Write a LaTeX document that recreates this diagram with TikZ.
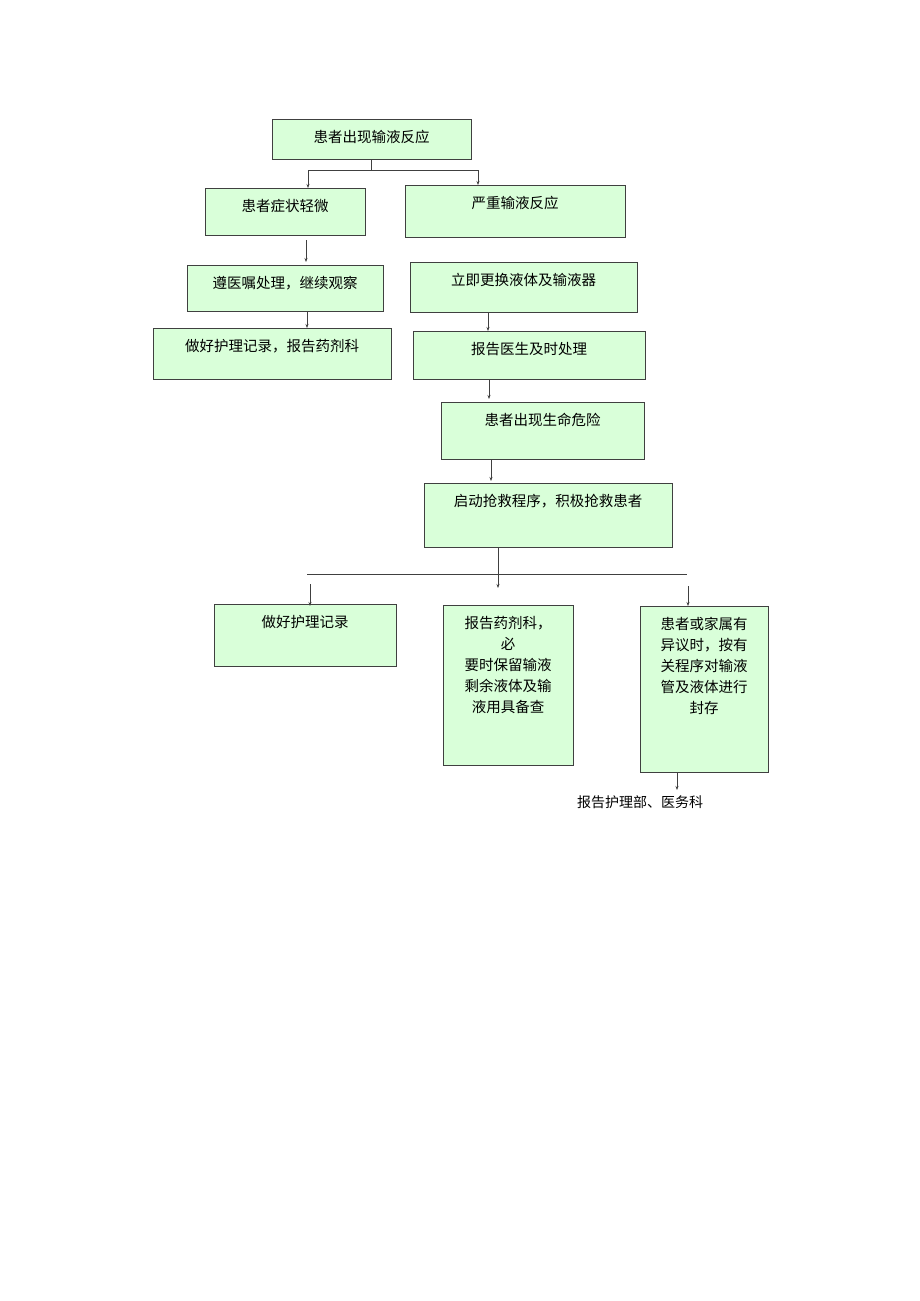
\documentclass[tikz,border=0pt]{standalone}
\usepackage{fontspec}
\setmainfont{Noto Sans CJK SC}
\usetikzlibrary{arrows.meta}
\begin{document}
\begin{tikzpicture}[x=1pt,y=-1pt,
  bx/.style={draw=black!75,line width=1pt,fill=green!20!white!90!black!5,fill=green!15},
  tx/.style={anchor=north,font=\fontsize{14.5}{21}\selectfont,align=center,inner sep=0pt},
  ar/.style={-{Stealth[length=4pt,width=3pt]},line width=0.7pt,black!75},
  ln/.style={line width=0.7pt,black!75}]
\useasboundingbox (0,0) rectangle (920,1301);
\fill[white] (0,0) rectangle (920,1301);
\newcommand\bxx[6]{\draw[bx] (#2,#3) rectangle (#4,#5); \node[tx] (#1) at ({(#2+#4)/2},#3+11) {#6};}
\bxx{a}{272}{119}{471}{159}{患者出现输液反应}
\bxx{b}{205}{188}{365}{235}{患者症状轻微}
\bxx{c}{405}{185}{625}{237}{严重输液反应}
\bxx{d}{187}{265}{383}{311}{遵医嘱处理，继续观察}
\bxx{e}{410}{262}{637}{312}{立即更换液体及输液器}
\bxx{f}{153}{328}{391}{379}{做好护理记录，报告药剂科}
\bxx{g}{413}{331}{645}{379}{报告医生及时处理}
\bxx{h}{441}{402}{644}{459}{患者出现生命危险}
\bxx{i}{424}{483}{672}{547}{启动抢救程序，积极抢救患者}
\bxx{j}{214}{604}{396}{666}{做好护理记录}
\bxx{k}{443}{605}{573}{765}{报告药剂科，\\必\\要时保留输液\\剩余液体及输\\液用具备查}
\bxx{l}{640}{606}{768}{772}{患者或家属有\\异议时，按有\\关程序对输液\\管及液体进行\\封存}
\node[tx,font=\fontsize{14}{18}\selectfont] (m) at (640,795) {报告护理部、医务科};
\coordinate (s1) at (371,170);
\draw[ln] (371,159) -- (s1);
\draw[ln] (308,170) -- (478,170);
\draw[ar] (308,170) -- (308,188);
\draw[ar] (478,170) -- (478,185);
\draw[ar] (306,240) -- (306,262);
\draw[ar] (307,311) -- (307,328);
\draw[ar] (488,312) -- (488,331);
\draw[ar] (489,379) -- (489,399);
\draw[ar] (491,459) -- (491,481);
\draw[ar] (498,547) -- (498,588);
\draw[ln] (307,574) -- (687,574);
\draw[ar] (310,584) -- (310,606);
\draw[ar] (688,586) -- (688,606);
\draw[ar] (677,772) -- (677,790);
\end{tikzpicture}
\end{document}
